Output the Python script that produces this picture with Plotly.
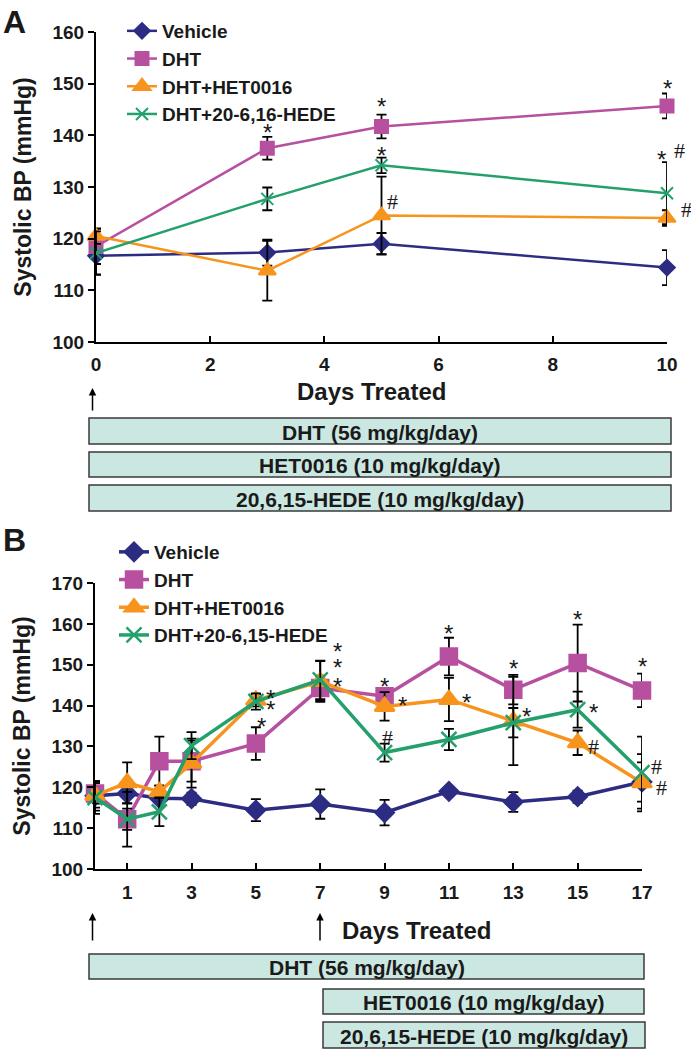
import plotly.graph_objects as go

W, H = 691, 1050
FONT = "Liberation Sans, Arial, sans-serif"
SERIF = "Liberation Serif, Times New Roman, serif"

# ---- panel A : days 0-10 ----
days_a = [0, 3, 5, 10]
vehicle_a = [116.7, 117.3, 119.0, 114.4]
vehicle_a_err = [3.6, 2.5, 2.1, 3.4]
dht_a = [118.5, 137.5, 141.7, 145.7]
dht_a_err = [3.4, 2.2, 2.3, 2.4]
het_a = [120.5, 113.8, 124.5, 124.0]
het_a_err = [1.5, 5.8, 7.5, 1.5]
hede_a = [117.2, 127.7, 134.2, 128.8]
hede_a_err = [4.2, 2.2, 1.5, 6.0]

# significance marks in panel A (day, mmHg, symbol)
sig_a_x = [3, 5, 10, 5, 9.9, 10.22, 5.2, 10.35]
sig_a_y = [141.9, 146.9, 150.5, 137.5, 136.6, 137.0, 127.1, 125.6]
sig_a_txt = ["*", "*", "*", "*", "*", "#", "#", "#"]

# ---- panel B : days 0-17 ----
days_b = [0, 1, 2, 3, 5, 7, 9, 11, 13, 15, 17]
vehicle_b = [117.9, 118.5, 117.3, 117.2, 114.4, 115.9, 113.8, 119.0, 116.4, 117.7, 121.3]
vehicle_b_err = [3.6, 2.5, 1.2, 1.5, 2.7, 3.6, 3.1, 1.0, 2.4, 1.5, 4.8]
dht_b = [118.5, 112.2, 126.4, 126.4, 130.7, 144.3, 142.3, 152.0, 143.9, 150.4, 143.7]
dht_b_err = [2.5, 6.7, 6.0, 5.0, 4.0, 3.0, 1.5, 4.6, 3.6, 9.4, 4.1]
het_b = [118.0, 121.1, 118.9, 125.9, 141.3, 145.9, 139.8, 141.5, 136.2, 130.9, 121.1]
het_b_err = [3.0, 5.0, 1.5, 6.0, 1.5, 5.0, 3.5, 5.3, 10.8, 3.0, 7.0]
hede_b = [117.5, 112.2, 114.0, 130.2, 141.0, 146.3, 128.5, 131.7, 135.8, 139.0, 123.6]
hede_b_err = [4.0, 2.6, 3.5, 3.3, 2.0, 4.7, 2.2, 2.6, 3.6, 4.4, 8.8]

sig_b_x = [5.45, 5.45, 5.18, 7.55, 7.55, 7.55, 9.0, 9.56, 9.1, 11.0, 11.55,
           13.0, 13.4, 15.0, 15.5, 15.5, 17.0, 17.46, 17.6]
sig_b_y = [143.5, 140.7, 136.5, 154.9, 151.0, 146.5, 146.3, 141.8, 132.2, 159.3, 142.4,
           150.8, 139.0, 162.8, 139.9, 130.0, 151.2, 125.2, 120.0]
sig_b_txt = ["*", "*", "*", "*", "*", "*", "*", "*", "#", "*", "*",
             "*", "*", "*", "*", "#", "*", "#", "#"]

# treatment bars
bars_a = ["DHT (56 mg/kg/day)", "HET0016 (10 mg/kg/day)", "20,6,15-HEDE (10 mg/kg/day)"]
bars_b = ["DHT (56 mg/kg/day)", "HET0016 (10 mg/kg/day)", "20,6,15-HEDE (10 mg/kg/day)"]

names_a = ["Vehicle", "DHT", "DHT+HET0016", "DHT+20-6,16-HEDE"]
names_b = ["Vehicle", "DHT", "DHT+HET0016", "DHT+20-6,15-HEDE"]
colors = ["#2d2c83", "#b6509f", "#f7941d", "#23a06c"]
symbols = ["diamond", "square", "triangle-up", "x-thin"]

# pixel frames of the two plots
A_X0, A_X1, A_Y0, A_Y1 = 96, 667, 32, 342
B_X0, B_X1, B_Y0, B_Y1 = 95, 642, 583, 869
A_MAX, B_MAX = 10, 17


def px(x):
    return x / W


def py(y):
    return 1 - y / H


def paper_text(x, y, text, size, bold=True):
    return dict(x=px(x), y=py(y), xref="paper", yref="paper", text=text, showarrow=False,
                xanchor="center", yanchor="middle",
                font=dict(size=size, family=FONT, weight="bold" if bold else "normal", color="#1a1a1a"))


fig = go.Figure()

series_a = [(vehicle_a, vehicle_a_err), (dht_a, dht_a_err), (het_a, het_a_err), (hede_a, hede_a_err)]
sizes_a = [12, 13, 15, 12]
for i, (vals, err) in enumerate(series_a):
    fig.add_trace(go.Scatter(
        x=days_a, y=vals, name=names_a[i], mode="lines+markers",
        line=dict(color=colors[i], width=2.5),
        marker=dict(symbol=symbols[i], size=sizes_a[i], color=colors[i],
                    line=dict(color=colors[i], width=2)),
        error_y=dict(type="data", array=err, color="black", thickness=1.8, width=5),
        cliponaxis=False, xaxis="x", yaxis="y", legend="legend"))

series_b = [(vehicle_b, vehicle_b_err), (dht_b, dht_b_err), (het_b, het_b_err), (hede_b, hede_b_err)]
sizes_b = [14, 16, 17, 15]
for i, (vals, err) in enumerate(series_b):
    fig.add_trace(go.Scatter(
        x=days_b, y=vals, name=names_b[i], mode="lines+markers",
        line=dict(color=colors[i], width=3.5),
        marker=dict(symbol=symbols[i], size=sizes_b[i], color=colors[i],
                    line=dict(color=colors[i], width=2.5)),
        error_y=dict(type="data", array=err, color="black", thickness=1.8, width=5),
        cliponaxis=False, xaxis="x2", yaxis="y2", legend="legend2"))

annotations = []
for xs, ys, ts, xr, yr, xmax, ppd in [
        (sig_a_x, sig_a_y, sig_a_txt, "x", "y", A_MAX, (A_X1 - A_X0) / A_MAX),
        (sig_b_x, sig_b_y, sig_b_txt, "x2", "y2", B_MAX, (B_X1 - B_X0) / B_MAX)]:
    for x, y, t in zip(xs, ys, ts):
        star = t == "*"
        # marks right of the last day: anchor on the axis end and shift in pixels
        shift = (x - xmax) * ppd if x > xmax else 0
        annotations.append(dict(
            x=min(x, xmax), y=y, xref=xr, yref=yr, text=t, showarrow=False,
            xanchor="center", yanchor="middle",
            xshift=shift, yshift=-7 if star else 0,
            font=dict(size=24 if star else 22, family=FONT if star else SERIF, color="#1a1a1a")))

# panel letters and x titles
annotations.append(paper_text(14, 22, "A", 32))
annotations.append(paper_text(14, 540, "B", 32))
annotations.append(paper_text(371, 392, "Days Treated", 24))
annotations.append(paper_text(417, 930, "Days Treated", 24))

# start arrows
for ax_x, top, bot in [(92.5, 388, 412), (92.5, 913, 942), (320, 913, 942)]:
    annotations.append(dict(x=px(ax_x), y=py(top), xref="paper", yref="paper", text="",
                            showarrow=True, ax=0, ay=bot - top, arrowhead=2, arrowsize=1,
                            arrowwidth=1.5, arrowcolor="black"))

shapes = []
boxes_a = [(89, 671, 418, 444), (89, 671, 452, 477), (89, 671, 485, 511)]
boxes_b = [(89, 644, 954, 979), (323, 644, 989, 1014), (323, 645, 1022, 1048)]
for labels, boxes in [(bars_a, boxes_a), (bars_b, boxes_b)]:
    for lab, (x0, x1, y0, y1) in zip(labels, boxes):
        shapes.append(dict(type="rect", xref="paper", yref="paper",
                           x0=px(x0), x1=px(x1), y0=py(y1), y1=py(y0),
                           fillcolor="#cbe7e1", line=dict(color="#3a3a3a", width=1.5)))
        annotations.append(paper_text((x0 + x1) / 2, (y0 + y1) / 2 + 1, lab, 21))

tickfont = dict(size=19, family=FONT, weight="bold", color="#1a1a1a")
axis_common = dict(showline=True, linewidth=2, linecolor="black", showgrid=False, zeroline=False,
                   tickwidth=2, tickcolor="black", ticklen=6, tickfont=tickfont, automargin=False)
ytitle = dict(text="Systolic BP (mmHg)", font=dict(size=23, family=FONT, weight="bold", color="#1a1a1a"),
              standoff=14)
legfont = dict(size=19, family=FONT, weight="bold", color="#1a1a1a")

fig.update_layout(
    width=W, height=H, margin=dict(l=0, r=0, t=0, b=0),
    paper_bgcolor="white", plot_bgcolor="white",
    xaxis=dict(domain=[px(A_X0), px(A_X1)], range=[0, A_MAX], tickvals=[0, 2, 4, 6, 8, 10],
               ticks="inside", ticklabelstandoff=4, anchor="y", **axis_common),
    yaxis=dict(domain=[py(A_Y1), py(A_Y0)], range=[100, 160], dtick=10, ticks="outside",
               anchor="x", title=ytitle, **axis_common),
    xaxis2=dict(domain=[px(B_X0), px(B_X1)], range=[0, B_MAX], tickvals=[1, 3, 5, 7, 9, 11, 13, 15, 17],
                ticks="inside", ticklabelstandoff=5, anchor="y2", **axis_common),
    yaxis2=dict(domain=[py(B_Y1), py(B_Y0)], range=[100, 170], dtick=10, ticks="outside",
                anchor="x2", title=ytitle, **axis_common),
    legend=dict(x=px(122), y=py(12), xanchor="left", yanchor="top", bgcolor="rgba(0,0,0,0)",
                font=legfont, itemwidth=30),
    legend2=dict(x=px(114), y=py(533), xanchor="left", yanchor="top", bgcolor="rgba(0,0,0,0)",
                 font=legfont, itemwidth=30),
    annotations=annotations, shapes=shapes,
)

fig.write_html("out.html", config={"displayModeBar": False},
               post_script="document.body.style.margin='0';")
